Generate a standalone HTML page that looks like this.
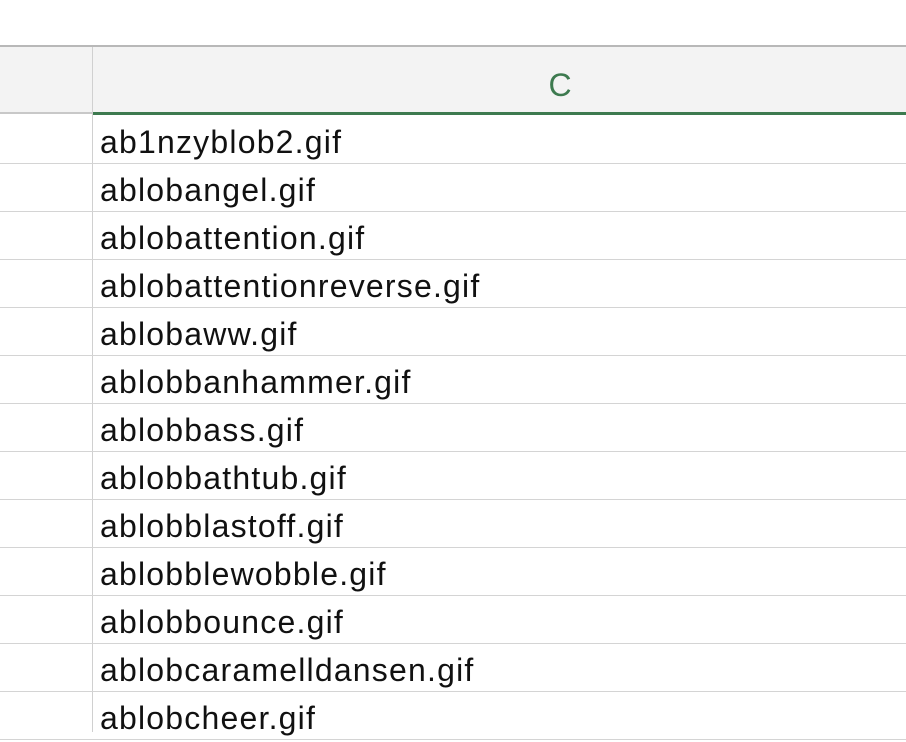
<!DOCTYPE html><html><head><style>
body{margin:0;width:906px;height:732px;overflow:hidden;background:#fff;font-family:"Liberation Sans",sans-serif;position:relative}
.a{position:absolute}
.r{position:absolute;left:100px;font-size:32px;letter-spacing:1.2px;color:#111;height:48px;line-height:48px;white-space:nowrap}
</style></head><body>
<div class="a" style="left:0;top:45px;width:906px;height:2px;background:#b8b8b8"></div>
<div class="a" style="left:0;top:47px;width:906px;height:66px;background:#f3f3f3"></div>
<div class="a" style="left:0;top:112px;width:92px;height:2px;background:#c8c8c8"></div>
<div class="a" style="left:92px;top:112px;width:814px;height:3px;background:#3d7a4f"></div>
<div class="a" style="left:92px;top:47px;width:1px;height:685px;background:#d0d0d0"></div>
<div class="a" style="left:545px;top:60px;width:30px;text-align:center;font-size:32px;color:#3d7a4f;line-height:50px">C</div>
<div id="rows"></div>
<script>
var n=["ab1nzyblob2.gif","ablobangel.gif","ablobattention.gif","ablobattentionreverse.gif","ablobaww.gif","ablobbanhammer.gif","ablobbass.gif","ablobbathtub.gif","ablobblastoff.gif","ablobblewobble.gif","ablobbounce.gif","ablobcaramelldansen.gif","ablobcheer.gif"];
var h="";for(var i=0;i<n.length;i++){var t=115+48*i;h+='<div class="r" style="top:'+(t+3)+'px">'+n[i]+'</div>';h+='<div class="a" style="left:0;top:'+(t+48)+'px;width:906px;height:1px;background:#d4d4d4"></div>';}
document.getElementById("rows").innerHTML=h;
</script>
</body></html>
